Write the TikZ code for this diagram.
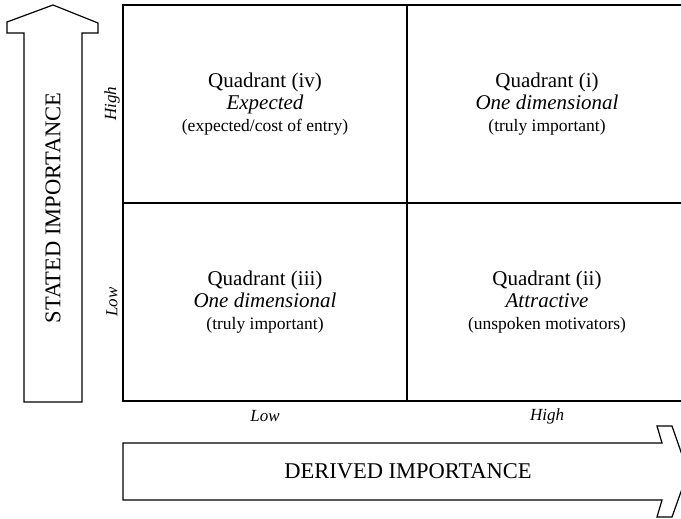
\documentclass[tikz,border=0pt]{standalone}
\usepackage{fontspec}
\setmainfont{Liberation Serif}
\newcommand{\quadtxt}[3]{#1\\{\itshape #2}\\{\fontsize{17.5}{22}\selectfont #3}}
\tikzset{
  quadbox/.style={draw, line width=1.2pt, minimum height=198pt, inner sep=0pt, align=center, font=\fontsize{21}{22}\selectfont},
  bigarrow/.style={draw, line width=1.2pt, line join=miter},
  axislabel/.style={font=\fontsize{22.5}{24}\selectfont, inner sep=0pt},
  levellabel/.style={font=\fontsize{17}{20}\selectfont\itshape, inner sep=0pt}
}
\begin{document}
\begin{tikzpicture}[x=1pt,y=-1pt]
\useasboundingbox (0,0) rectangle (681,519);
\clip (0,0) rectangle (681,519);
% quadrants
\node[quadbox, minimum width=284pt] (q4) at (265,104) {\quadtxt{Quadrant (iv)}{Expected}{(expected/cost of entry)}};
\node[quadbox, minimum width=280pt] (q1) at (547,104) {\quadtxt{Quadrant (i)}{One dimensional}{(truly important)}};
\node[quadbox, minimum width=284pt] (q3) at (265,302) {\quadtxt{Quadrant (iii)}{One dimensional}{(truly important)}};
\node[quadbox, minimum width=280pt] (q2) at (547,302) {\quadtxt{Quadrant (ii)}{Attractive}{(unspoken motivators)}};
% vertical arrow
\draw[bigarrow] (53,5) -- (98,23) -- (98,33) -- (82,33) -- (82,402) -- (24,402) -- (24,33) -- (7,33) -- (7,22) -- cycle;
\node[axislabel, rotate=90] (stated) at (53,208) {STATED IMPORTANCE};
% horizontal arrow
\draw[bigarrow] (123,443) -- (662,443) -- (657,426) -- (672,426) -- (688,472) -- (672,517) -- (657,517) -- (662,500) -- (123,500) -- cycle;
\node[axislabel] (derived) at (408,471) {DERIVED IMPORTANCE};
% level labels
\node[levellabel, rotate=90] (hiy) at (112,104) {High};
\node[levellabel, rotate=90] (loy) at (112,302) {Low};
\node[levellabel] (lox) at (265,416) {Low};
\node[levellabel] (hix) at (547,416) {High};
\end{tikzpicture}
\end{document}
